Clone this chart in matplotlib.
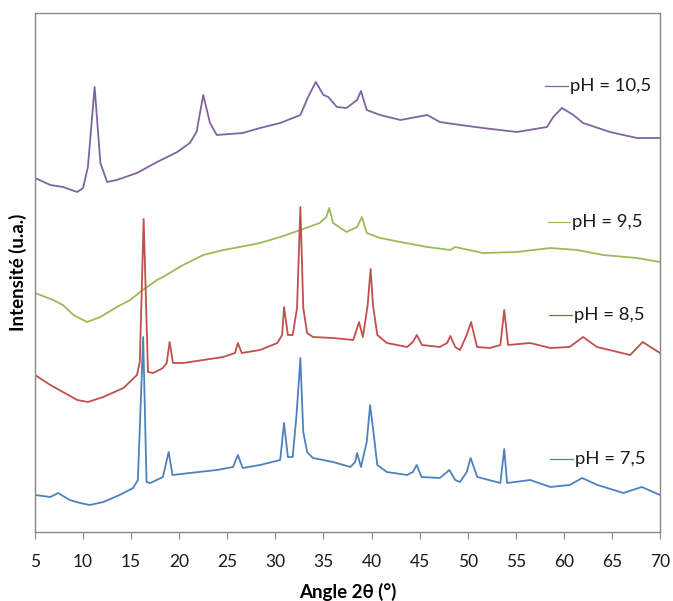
import matplotlib
matplotlib.use('Agg')
import matplotlib.pyplot as plt

plt.rcParams['font.family'] = ['Lato', 'DejaVu Sans']

# Diffractogrammes (intensité en u.a., décalages inclus)
ang_105 = [5, 6.6, 7.9, 9.4, 10.0, 10.5, 11.2, 11.8, 12.5, 13.5, 15.6, 17.7, 19.8, 21.1,
           21.8, 22.5, 23.2, 23.9, 26.6, 28.4, 30.5, 32.6, 33.4, 34.2, 35.0, 35.5, 36.4,
           37.4, 38.5, 38.9, 39.5, 40.9, 43.0, 45.8, 47.1, 48.5, 51.6, 55.1, 58.25, 58.9,
           59.8, 61.0, 62.0, 64.8, 67.6, 70]
int_105 = [354, 347, 345, 340, 344, 365, 445, 369, 350, 352, 359, 370, 380, 389,
           400, 437, 409, 397, 399, 404, 409, 417, 435, 450, 437, 435, 425,
           424, 432, 441, 422, 417, 412, 417, 410, 408, 404, 400, 405, 415,
           424, 417, 409, 400, 394, 394]

ang_95 = [5, 6.9, 7.9, 9.0, 10.4, 11.8, 13.5, 14.9, 16.2, 17.7, 18.3, 20.4, 22.5, 24.6,
          26.3, 28.4, 30.5, 32.6, 34.6, 35.3, 35.6, 36.0, 37.4, 38.5, 39.0, 39.5, 40.9,
          43.0, 45.8, 48.2, 48.7, 51.6, 55.1, 58.6, 61.4, 64.1, 67.6, 70]
int_95 = [239, 232, 227, 217, 210, 215, 225, 232, 242, 252, 255, 267, 277, 282,
          285, 289, 295, 302, 309, 315, 324, 309, 300, 305, 315, 299, 294,
          290, 285, 282, 285, 279, 280, 284, 282, 277, 274, 270]

ang_85 = [5, 6.6, 7.9, 9.4, 10.5, 12.1, 14.2, 15.6, 15.9, 16.3, 16.75, 17.3, 18.3, 18.7,
          19.0, 19.35, 20.4, 22.5, 24.55, 25.8, 26.1, 26.5, 28.4, 30.2, 30.7, 30.9, 31.3,
          31.8, 32.25, 32.6, 32.9, 33.3, 33.9, 36.0, 38.1, 38.7, 39.1, 39.6, 39.9, 40.15,
          40.6, 41.6, 43.7, 44.3, 44.7, 45.25, 47.1, 47.85, 48.2, 48.7, 49.2, 49.9, 50.35,
          50.97, 52.3, 53.4, 53.8, 54.2, 56.5, 58.6, 60.6, 62.0, 63.45, 66.9, 68.2, 70]
int_85 = [157, 147, 140, 132, 130, 135, 144, 157, 170, 313, 160, 159, 164, 169,
          190, 169, 169, 172, 175, 179, 189, 179, 182, 189, 197, 225, 197,
          197, 224, 325, 224, 199, 195, 194, 192, 210, 195, 227, 263, 227,
          197, 189, 185, 190, 197, 187, 185, 189, 196, 185, 182, 197, 210,
          185, 184, 187, 222, 187, 189, 184, 185, 195, 185, 177, 190, 179]

ang_75 = [5, 6.6, 7.4, 8.6, 9.7, 10.7, 12.1, 13.8, 15.2, 15.7, 16.25, 16.6, 17.0, 18.3,
          18.9, 19.3, 21.1, 23.9, 25.6, 26.1, 26.6, 28.4, 30.5, 30.9, 31.3, 31.8, 32.2,
          32.6, 32.9, 33.3, 33.9, 36.0, 37.8, 38.3, 38.5, 38.9, 39.5, 39.85, 40.2, 40.6,
          41.6, 43.7, 44.3, 44.7, 45.2, 47.1, 48.1, 48.7, 49.2, 49.9, 50.3, 51.0, 53.4,
          53.8, 54.1, 56.5, 58.6, 60.6, 61.9, 63.5, 66.2, 68.1, 70]
int_75 = [37, 35, 39, 32, 29, 27, 30, 37, 44, 52, 195, 50, 49, 55,
          80, 57, 59, 62, 65, 77, 64, 67, 72, 109, 75, 75, 117,
          174, 100, 80, 74, 70, 65, 70, 79, 65, 90, 127, 100, 67,
          60, 57, 60, 67, 55, 54, 62, 52, 50, 60, 74, 55, 49,
          83, 49, 52, 45, 47, 54, 47, 39, 45, 37]

labels = ['pH = 10,5', 'pH = 9,5', 'pH = 8,5', 'pH = 7,5']
colors = ['#8064A2', '#9BBB59', '#C0504D', '#4F81BD']
series = [(ang_105, int_105), (ang_95, int_95), (ang_85, int_85), (ang_75, int_75)]
xticks = list(range(5, 71, 5))

fig = plt.figure(figsize=(6.73, 6.01), dpi=100)
ax = fig.add_axes([35 / 673, 69 / 601, 625 / 673, 519 / 601])

for (x, y), c in zip(series, colors):
    ax.plot(x, y, color=c, lw=1.3)

# étiquettes à droite avec petit trait
lab_pos = [(545, 568, 86), (548, 570, 222), (549, 572, 315), (550, 573, 459)]
for (x0, x1, py), lab, c in zip(lab_pos, labels, colors):
    fy = 1 - (py - 13) / 519
    ax.plot([(x0 - 35) / 625, (x1 - 35) / 625], [fy, fy], color=c, lw=0.9,
            transform=ax.transAxes, clip_on=False)
    ax.text((x1 + 2 - 35) / 625, fy, lab, transform=ax.transAxes, fontsize=13.3,
            color='#1a1a1a', va='center', ha='left')

ax.set_xlim(5, 70)
ax.set_ylim(0, 519)
ax.set_xticks(xticks)
ax.set_yticks([])
ax.tick_params(axis='x', direction='out', length=5, color='#888888', labelsize=12.5,
               pad=11, labelcolor='#1a1a1a')
for s in ax.spines.values():
    s.set_color('#888888')
    s.set_linewidth(1.0)

ax.set_xlabel('Angle 2θ (°)', fontsize=13.5, fontweight='bold', labelpad=9)
ax.set_ylabel('Intensité (u.a.)', fontsize=13.5, fontweight='bold', labelpad=6)

fig.savefig('out.png', dpi=100, facecolor='white')
